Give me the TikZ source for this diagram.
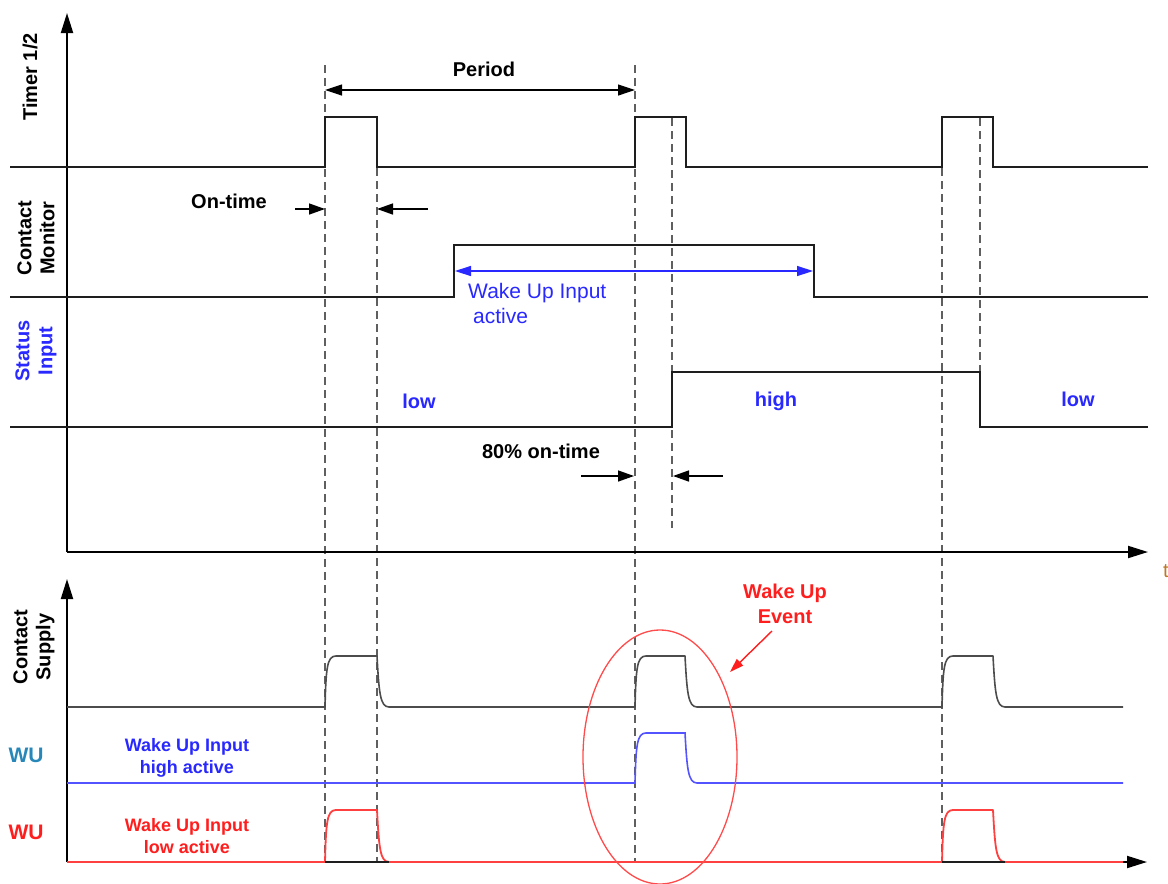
\documentclass[tikz,border=0pt]{standalone}
\usepackage{fontspec}
\setmainfont{Liberation Sans}
\usetikzlibrary{arrows.meta,shapes.geometric}
\definecolor{wublue}{RGB}{40,40,255}
\definecolor{wured}{RGB}{255,30,30}
\definecolor{wuteal}{RGB}{40,135,185}
\definecolor{dashgray}{RGB}{95,95,95}
\definecolor{sig}{RGB}{30,30,30}
\definecolor{torange}{RGB}{190,120,40}
\begin{document}
\begin{tikzpicture}[x=1pt,y=-1pt,
  sigline/.style={line width=2.4pt, draw=sig, line join=miter},
  thinsig/.style={line width=1.6pt, draw=black!70, line join=round},
  bluesig/.style={line width=1.6pt, draw=wublue!80},
  redsig/.style={line width=1.8pt, draw=wured!85, line join=round},
  axisline/.style={line width=2pt, draw=black, -{Triangle[length=20pt,width=12pt]}},
  guide/.style={draw=dashgray, line width=1.5pt, dash pattern=on 8pt off 5pt},
  dimarrow/.style={line width=1.4pt, draw=black, -{Triangle[length=16pt,width=11pt]}},
  dimboth/.style={line width=1.2pt, draw=black, {Triangle[length=17pt,width=11pt]}-{Triangle[length=17pt,width=11pt]}},
  lbl/.style={font=\fontsize{20}{23}\selectfont\bfseries, inner sep=0pt},
  small/.style={font=\fontsize{18}{22}\selectfont\bfseries, inner sep=0pt, align=center},
  side/.style={lbl, rotate=90, align=center}
]
\useasboundingbox (0,0) rectangle (1168,884);

% ---------------- upper diagram ----------------
% dashed guides
\draw[guide] (325,65) -- (325,862);
\draw[guide] (377,168) -- (377,862);
\draw[guide] (635,65) -- (635,862);
\draw[guide] (672,118) -- (672,528);
\draw[guide] (942,168) -- (942,862);
\draw[guide] (980,118) -- (980,372);

% axes
\draw[axisline] (67,552) -- (67,13);
\draw[axisline] (67,552) -- (1148,552);
\node[font=\fontsize{20}{23}\selectfont, text=torange, anchor=west, inner sep=0pt] (tlab) at (1163,571) {t};

% Timer 1/2
\draw[sigline] (10,167) -- (325,167) -- (325,117) -- (377,117) -- (377,167)
  -- (635,167) -- (635,117) -- (686,117) -- (686,167)
  -- (942,167) -- (942,117) -- (993,117) -- (993,167) -- (1148,167);
% Contact Monitor
\draw[sigline] (10,297) -- (454,297) -- (454,245) -- (814,245) -- (814,297) -- (1148,297);
% Status Input
\draw[sigline] (10,427) -- (672,427) -- (672,372) -- (980,372) -- (980,427) -- (1148,427);

% side labels
\node[side] (timerlab) at (30,77) {Timer 1/2};
\node[side] (cmlab) at (36,238) {Contact\\Monitor};
\node[side, text=wublue] (silab) at (36,351) {Status\\Input};

% Period
\coordinate (pa) at (325,90);
\coordinate (pb) at (635,90);
\draw[dimboth] (pa) -- (pb);
\node[lbl] (period) at (484,69) {Period};

% On-time
\coordinate (ot1s) at (295,209);
\coordinate (ot1e) at (325,209);
\coordinate (ot2s) at (428,209);
\coordinate (ot2e) at (377,209);
\draw[dimarrow] (ot1s) -- (ot1e);
\draw[dimarrow] (ot2s) -- (ot2e);
\node[lbl] (ontime) at (229,201) {On-time};

% Wake Up Input active
\coordinate (wa) at (455,271);
\coordinate (wb) at (813,271);
\draw[line width=1.4pt, draw=wublue, {Triangle[length=16pt,width=10pt]}-{Triangle[length=16pt,width=10pt]}] (wa) -- (wb);
\node[font=\fontsize{21}{26}\selectfont, text=wublue, inner sep=0pt, align=left, anchor=north west] (wuact) at (468,283) {Wake Up Input\\[-1pt]\hspace{5pt}active};

% low / high
\node[lbl, text=wublue] (low1) at (419,401) {low};
\node[lbl, text=wublue] (high) at (776,401) {high};
\node[lbl, text=wublue] (low2) at (1078,399) {low};

% 80% on-time
\coordinate (e1s) at (581,476);
\coordinate (e1e) at (634,476);
\coordinate (e2s) at (723,476);
\coordinate (e2e) at (673,476);
\draw[dimarrow] (e1s) -- (e1e);
\draw[dimarrow] (e2s) -- (e2e);
\node[lbl] (eighty) at (541,451) {80\% on-time};

% ---------------- lower diagram ----------------
\draw[axisline] (67,862) -- (67,579);
\draw[axisline] (67,862) -- (1147,862);

% Contact Supply
\draw[thinsig] (67,707) -- (325,707)
  .. controls (326,668) and (327,656) .. (336,656) -- (377,656)
  .. controls (379,692) and (380,707) .. (389,707) -- (635,707)
  .. controls (636,668) and (637,656) .. (646,656) -- (685,656)
  .. controls (687,692) and (688,707) .. (697,707) -- (942,707)
  .. controls (943,668) and (944,656) .. (953,656) -- (993,656)
  .. controls (995,692) and (996,707) .. (1005,707) -- (1123,707);
% WU high active
\draw[bluesig] (67,783) -- (635,783)
  .. controls (636,745) and (637,733) .. (646,733) -- (685,733)
  .. controls (687,768) and (688,783) .. (697,783) -- (1123,783);
% WU low active
\draw[redsig] (67,862) -- (325,862)
  .. controls (326,822) and (327,810) .. (336,810) -- (377,810)
  .. controls (379,847) and (380,862) .. (389,862);
\draw[redsig] (389,862) -- (942,862)
  .. controls (943,822) and (944,810) .. (953,810) -- (993,810)
  .. controls (995,847) and (996,862) .. (1005,862) -- (1123,862);
\draw[line width=2pt, draw=sig] (325,862) -- (389,862);
\draw[line width=2pt, draw=sig] (942,862) -- (1005,862);

\node[side] (cslab) at (34,647) {Contact\\Supply};
\node[lbl, text=wuteal, font=\fontsize{21}{24}\selectfont\bfseries] (wu1) at (26,755) {WU};
\node[lbl, text=wured, font=\fontsize{21}{24}\selectfont\bfseries] (wu2) at (26,832) {WU};
\node[small, text=wublue] (hiact) at (187,758) {Wake Up Input\\high active};
\node[small, text=wured] (loact) at (187,836) {Wake Up Input\\low active};

% Wake Up Event
\node[draw=wured!80, line width=1.3pt, ellipse, minimum width=154pt, minimum height=254pt, inner sep=0pt] (event) at (660,757) {};
\node[lbl, text=wured, align=center, font=\fontsize{20}{25}\selectfont\bfseries] (evtxt) at (785,604) {Wake Up\\Event};
\coordinate (evs) at (772,631);
\coordinate (evtip) at (730,672);
\draw[line width=1.4pt, draw=wured, -{Triangle[length=14pt,width=9pt]}] (evs) -- (evtip);
\end{tikzpicture}
\end{document}
